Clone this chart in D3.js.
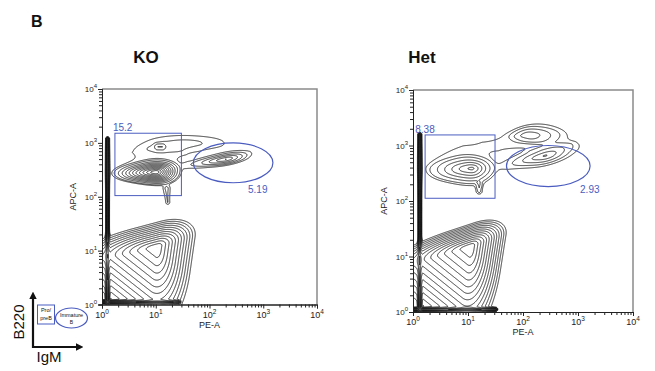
<!DOCTYPE html>
<html>
<head>
<meta charset="utf-8">
<script src="https://cdn.jsdelivr.net/npm/d3@7"></script>
<style>
  body { margin: 0; background: #fff; }
  svg text { font-family: "Liberation Sans", Arial, sans-serif; }
</style>
</head>
<body>
<svg id="fig" width="655" height="371"></svg>
<script>
// Populations, all in log10 units. "poly" = outer contour outline around centre c,
// "seg" = axis pile-up / streak along a segment with half width hw. n = number of rings.
const koPops = [
  { c: [1.02, 1.07], poly: [[-1.1, 1.0], [1.85, 1.78], [1.45, -1.0]], n: 13, m: 2 },
  { c: [1.0, 2.46], poly: [[0.0, 2.42], [0.6, 2.7], [1.2, 2.75], [1.55, 2.55], [1.3, 2.2], [0.6, 2.2]], n: 13 },
  { c: [0.95, 2.55], poly: [[0.0, 2.5], [0.6, 2.95], [1.5, 3.0], [1.75, 2.6], [1.3, 2.15], [0.5, 2.2]], n: 2 },
  { c: [2.3, 2.7], poly: [[1.4, 2.56], [2.0, 2.8], [2.7, 2.9], [2.95, 2.8], [2.6, 2.6], [2.0, 2.5]], n: 6 },
  { c: [1.6, 3.0], poly: [[0.6, 2.85], [1.0, 3.16], [2.3, 3.2], [2.9, 2.95], [2.2, 2.82]], n: 2 },
  { seg: [1.03, 2.93, 1.12, 2.93], hw: 0.05, n: 2 },
  { seg: [1.2, 2.15, 1.22, 1.9], hw: 0.06, n: 2 },
  { seg: [0.1, -0.1, 0.1, 3.08], hw: 0.042, n: 8 },
  { seg: [-0.1, 0.05, 1.42, 0.05], hw: 0.042, n: 8 }
];
const hetPops = [
  { c: [1.04, 1.18], poly: [[-1.0, 0.95], [1.8, 1.86], [1.36, -0.92]], n: 14, m: 2 },
  { c: [1.07, 2.59], poly: [[0.1, 2.55], [0.6, 2.82], [1.2, 2.86], [1.55, 2.65], [1.3, 2.3], [0.6, 2.3]], n: 7 },
  { c: [0.9, 2.6], poly: [[0.05, 2.6], [0.4, 3.05], [1.3, 3.0], [1.65, 2.6], [1.25, 2.15], [0.4, 2.3]], n: 2 },
  { c: [2.4, 2.82], poly: [[1.4, 2.6], [2.1, 2.95], [2.9, 3.1], [3.15, 2.95], [2.6, 2.6], [1.9, 2.5]], n: 5 },
  { c: [2.07, 3.19], poly: [[1.7, 3.15], [2.0, 3.35], [2.6, 3.32], [2.7, 3.1], [2.2, 3.02]], n: 4 },
  { c: [2.1, 3.1], poly: [[1.0, 2.95], [1.6, 3.35], [2.5, 3.62], [3.0, 3.4], [3.1, 3.0], [2.0, 2.85]], n: 2 },
  { seg: [1.2, 2.3, 1.2, 2.18], hw: 0.05, n: 2 },
  { seg: [0.12, -0.1, 0.12, 3.2], hw: 0.042, n: 8 },
  { seg: [-0.1, 0.05, 1.5, 0.05], hw: 0.042, n: 8 }
];

// gates: rectangle [x0, x1, y0, y1] in data units, ellipse centre/radii in log units
const koRect = [1.74, 30, 105, 1510];
const hetRect = [1.66, 31, 112, 1550];
const koEllipse = { cx: 2.44, cy: 2.63, rx: 0.74, ry: 0.37 };
const hetEllipse = { cx: 2.46, cy: 2.63, rx: 0.76, ry: 0.37 };
const koLabels = [{ text: "15.2", x: 1.6, y: 1650 }, { text: "5.19", x: 520, y: 118 }];
const hetLabels = [{ text: "8.38", x: 1.1, y: 1650 }, { text: "2.93", x: 1090, y: 140 }];

const decades = [0, 1, 2, 3, 4];
const panelTitles = ["KO", "Het"];

const svg = d3.select("#fig");
const gateColor = "#4a5cc0";
const base = 0.01, ratio = 1.45;

function prep(p) {
  if (p.seg) return p;
  const [cx, cy] = p.c;
  p.m = p.m || 3;
  p.edges = p.poly.map((v, i) => {
    const w = p.poly[(i + 1) % p.poly.length];
    let nx = w[1] - v[1], ny = -(w[0] - v[0]);
    let h = nx * (v[0] - cx) + ny * (v[1] - cy);
    if (h < 0) { nx = -nx; ny = -ny; h = -h; }
    return [nx / h, ny / h];
  });
  return p;
}

function gauge(p, lx, ly) {
  if (p.seg) {
    const [x1, y1, x2, y2] = p.seg;
    const dx = x2 - x1, dy = y2 - y1;
    let t = ((lx - x1) * dx + (ly - y1) * dy) / (dx * dx + dy * dy);
    t = Math.max(0, Math.min(1, t));
    const ex = lx - (x1 + t * dx), ey = ly - (y1 + t * dy);
    return Math.sqrt(ex * ex + ey * ey) / p.hw;
  }
  // soft maximum over the edges -> rounded polygon rings
  let s = 0;
  const px = lx - p.c[0], py = ly - p.c[1];
  for (const e of p.edges) {
    const v = e[0] * px + e[1] * py;
    if (v > 0) s += Math.pow(v, p.m);
  }
  return Math.pow(s, 1 / p.m);
}

function density(pops, lx, ly) {
  let v = 0;
  for (const p of pops) {
    const g = gauge(p, lx, ly);
    const e = g <= 1 ? (p.seg ? g : Math.pow(g, 1.2)) : 1 + (g - 1) * 3;
    v += Math.pow(ratio, p.n * (1 - e));
  }
  return v * base;
}

function drawPanel(opt) {
  const xs = d3.scaleLog().domain([1, 1e4]).range([opt.left, opt.right]);
  const ys = d3.scaleLog().domain([1, 1e4]).range([opt.bottom, opt.top]);
  const g = svg.append("g");
  const clipId = "clip" + opt.id;
  g.append("clipPath").attr("id", clipId).append("rect")
    .attr("x", opt.left).attr("y", opt.top)
    .attr("width", opt.right - opt.left).attr("height", opt.bottom - opt.top);

  opt.pops.forEach(prep);
  // density grid in log space
  const lo = -0.1, step = 0.007, n = 600;
  const values = new Float64Array(n * n);
  for (let j = 0; j < n; j++) {
    const ly = lo + (n - 1 - j) * step;
    for (let i = 0; i < n; i++) {
      values[i + j * n] = density(opt.pops, lo + i * step, ly);
    }
  }
  const levels = d3.range(1, 30).map(k => base * Math.pow(ratio, k) * 0.999);
  const contours = d3.contours().size([n, n]).thresholds(levels)(values);
  const proj = d3.geoTransform({
    point: function (x, y) {
      this.stream.point(xs(Math.pow(10, lo + x * step)), ys(Math.pow(10, lo + (n - 1 - y) * step)));
    }
  });
  const path = d3.geoPath(proj);
  g.append("g").attr("clip-path", `url(#${clipId})`)
    .selectAll("path").data(contours).join("path")
    .attr("d", path).attr("fill", "none")
    .attr("stroke", "#111").attr("stroke-width", 0.85);

  // frame
  g.append("path")
    .attr("d", `M${opt.left},${opt.top}H${opt.right}V${opt.bottom}`)
    .attr("fill", "none").attr("stroke", "#8a8a8a").attr("stroke-width", 1.5);

  // axes: minor + major ticks
  const minor = [];
  decades.slice(0, -1).forEach(d => { for (let m = 2; m < 10; m++) minor.push(m * Math.pow(10, d)); });
  const major = decades.map(d => Math.pow(10, d));
  g.append("g").attr("transform", `translate(0,${opt.bottom})`)
    .call(d3.axisBottom(xs).tickValues(minor).tickSize(3).tickFormat(""));
  g.append("g").attr("transform", `translate(0,${opt.bottom})`)
    .call(d3.axisBottom(xs).tickValues(major).tickSize(4).tickFormat(""));
  g.append("g").attr("transform", `translate(${opt.left},0)`)
    .call(d3.axisLeft(ys).tickValues(minor).tickSize(3).tickFormat(""));
  g.append("g").attr("transform", `translate(${opt.left},0)`)
    .call(d3.axisLeft(ys).tickValues(major).tickSize(4).tickFormat(""));
  g.selectAll(".domain").attr("stroke", "#222");
  g.selectAll(".tick line").attr("stroke", "#222");

  // tick labels with superscripts
  decades.forEach(d => {
    const tx = g.append("text").attr("x", xs(Math.pow(10, d))).attr("y", opt.bottom + 13)
      .attr("text-anchor", "middle").attr("font-size", 9).attr("fill", "#222");
    tx.append("tspan").text("10");
    tx.append("tspan").attr("dy", -4).attr("font-size", 6.5).text(d);
    const ty = g.append("text").attr("x", opt.left - 5).attr("y", ys(Math.pow(10, d)) + 3)
      .attr("text-anchor", "end").attr("font-size", 8).attr("fill", "#222");
    ty.append("tspan").text("10");
    ty.append("tspan").attr("dy", -4).attr("font-size", 6).text(d);
  });

  g.append("text").attr("x", (opt.left + opt.right) / 2).attr("y", opt.bottom + 23)
    .attr("text-anchor", "middle").attr("font-size", 9).attr("fill", "#222").text("PE-A");
  g.append("text").attr("transform", `translate(${opt.left - 26},${(opt.top + opt.bottom) / 2}) rotate(-90)`)
    .attr("text-anchor", "middle").attr("font-size", 9).attr("fill", "#222").text("APC-A");

  // gates
  const r = opt.rect;
  g.append("rect")
    .attr("x", xs(r[0])).attr("y", ys(r[3]))
    .attr("width", xs(r[1]) - xs(r[0])).attr("height", ys(r[2]) - ys(r[3]))
    .attr("fill", "none").attr("stroke", gateColor).attr("stroke-width", 1);
  const e = opt.ellipse;
  const ecx = xs(Math.pow(10, e.cx)), ecy = ys(Math.pow(10, e.cy));
  g.append("ellipse")
    .attr("cx", ecx).attr("cy", ecy)
    .attr("rx", xs(Math.pow(10, e.cx + e.rx)) - ecx)
    .attr("ry", ecy - ys(Math.pow(10, e.cy + e.ry)))
    .attr("fill", "none").attr("stroke", gateColor).attr("stroke-width", 1.2);
  opt.labels.forEach(l => {
    g.append("text").attr("x", xs(l.x)).attr("y", ys(l.y))
      .attr("font-size", 10).attr("fill", gateColor).text(l.text);
  });

  svg.append("text").attr("x", opt.titleX).attr("y", 63)
    .attr("text-anchor", "middle").attr("font-size", 17).attr("font-weight", "bold")
    .attr("font-family", "'Liberation Sans Narrow', 'Liberation Sans', sans-serif")
    .attr("fill", "#111").text(opt.title);
}

drawPanel({ id: "ko", left: 102, right: 317, top: 89, bottom: 304.5, pops: koPops,
  rect: koRect, ellipse: koEllipse, labels: koLabels, title: panelTitles[0], titleX: 146 });
drawPanel({ id: "het", left: 413, right: 633, top: 90, bottom: 312, pops: hetPops,
  rect: hetRect, ellipse: hetEllipse, labels: hetLabels, title: panelTitles[1], titleX: 422 });

// panel letter
svg.append("text").attr("x", 31).attr("y", 27).attr("font-size", 16).attr("font-weight", "bold")
  .attr("font-family", "'Liberation Sans Narrow', 'Liberation Sans', sans-serif").attr("fill", "#111").text("B");

// schematic legend
const leg = svg.append("g");
svg.append("defs").append("marker").attr("id", "arr").attr("viewBox", "0 0 10 10")
  .attr("refX", 3).attr("refY", 5).attr("markerWidth", 3.5).attr("markerHeight", 3.5)
  .attr("orient", "auto").append("path").attr("d", "M0,0L10,5L0,10z").attr("fill", "#111");
leg.append("path").attr("d", "M33,348V297").attr("stroke", "#111").attr("stroke-width", 2.2)
  .attr("marker-end", "url(#arr)");
leg.append("path").attr("d", "M32,347H78").attr("stroke", "#111").attr("stroke-width", 2.2)
  .attr("marker-end", "url(#arr)");
leg.append("rect").attr("x", 37.5).attr("y", 305).attr("width", 17).attr("height", 19)
  .attr("fill", "none").attr("stroke", gateColor).attr("stroke-width", 1);
leg.append("ellipse").attr("cx", 71.5).attr("cy", 318).attr("rx", 16).attr("ry", 10)
  .attr("fill", "none").attr("stroke", gateColor).attr("stroke-width", 1.2);
[["Pro/", 46, 312, 5.5], ["preB", 46, 320, 5.5], ["Immature", 71.5, 317, 5.5], ["B", 71.5, 324, 5]].forEach(t => {
  leg.append("text").attr("x", t[1]).attr("y", t[2]).attr("text-anchor", "middle")
    .attr("font-size", t[3]).attr("fill", "#111").text(t[0]);
});
leg.append("text").attr("transform", "translate(24,322) rotate(-90)").attr("text-anchor", "middle")
  .attr("font-size", 15).attr("font-family", "'DejaVu Sans', sans-serif").attr("fill", "#111").text("B220");
leg.append("text").attr("x", 49).attr("y", 362).attr("text-anchor", "middle")
  .attr("font-size", 15).attr("font-family", "'DejaVu Sans', sans-serif").attr("fill", "#111").text("IgM");
</script>
</body>
</html>
